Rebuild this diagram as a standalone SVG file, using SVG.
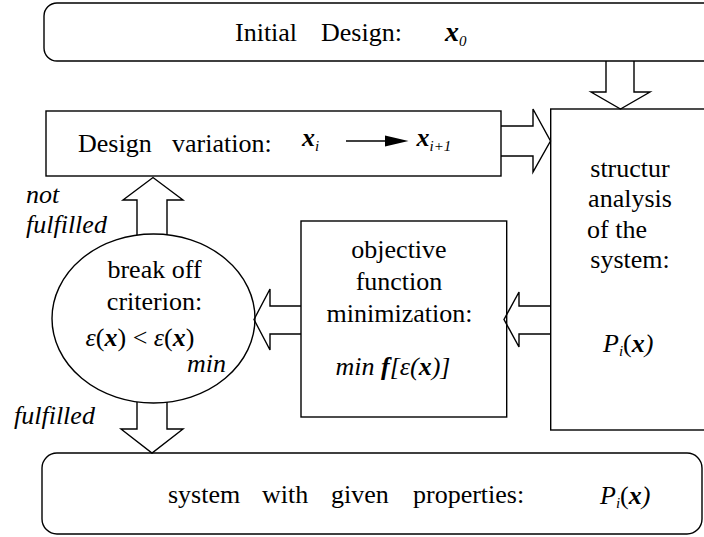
<svg xmlns="http://www.w3.org/2000/svg" width="704" height="537" viewBox="0 0 704 537" font-family="'Liberation Serif', Tinos, 'DejaVu Serif', 'Noto Serif', serif">
<style>
  .box { fill: none; stroke: #000; stroke-width: 1.4; }
  .arr { fill: none; stroke: #000; stroke-width: 1.4; stroke-linejoin: miter; }
  text { font-family: 'Liberation Serif', Tinos, 'DejaVu Serif', 'Noto Serif', serif; font-size: 26px; fill: #000; }
  .it { font-style: italic; }
  .bi { font-style: italic; font-weight: bold; }
  .sub { font-size: 15px; font-style: italic; }
  .mid { text-anchor: middle; }
</style>
<rect width="704" height="537" fill="#fff"/>

<g id="initial-design">
  <rect class="box" x="44" y="3" width="690" height="58" rx="13" ry="13"/>
  <text x="235" y="41">Initial</text>
  <text x="321" y="41">Design:</text>
  <text x="445" y="41"><tspan class="bi" font-size="28">x</tspan><tspan class="sub" dy="5">0</tspan></text>
</g>

<g id="design-variation">
  <rect class="box" x="46" y="111" width="455" height="65"/>
  <text x="78" y="152">Design</text>
  <text x="172" y="152">variation:</text>
  <text x="302" y="146"><tspan class="bi">x</tspan><tspan class="sub" dy="5">i</tspan></text>
  <line x1="346" y1="141" x2="388" y2="141" stroke="#000" stroke-width="1.6"/>
  <polygon points="385,135.5 408.5,141 385,146.5" fill="#000"/>
  <text x="416.5" y="146"><tspan class="bi">x</tspan><tspan class="sub" dy="5">i+1</tspan></text>
</g>

<g id="structur-analysis">
  <rect class="box" x="550.7" y="109" width="180" height="321"/>
  <text class="mid" x="630" y="177">structur</text>
  <text class="mid" x="630" y="207">analysis</text>
  <text x="587" y="238">of the</text>
  <text class="mid" x="630" y="268">system:</text>
  <text x="603" y="352"><tspan class="it">P</tspan><tspan class="sub" dy="4">i</tspan><tspan dy="-4">(</tspan><tspan class="bi">x</tspan><tspan class="it">)</tspan></text>
</g>

<g id="objective">
  <rect class="box" x="301" y="221" width="205.7" height="196"/>
  <text class="mid" x="399" y="258">objective</text>
  <text class="mid" x="399" y="290">function</text>
  <text class="mid" x="399.5" y="322">minimization:</text>
  <text class="mid" x="393" y="375"><tspan class="it">min </tspan><tspan class="bi">f</tspan><tspan class="it">[ε(</tspan><tspan class="bi">x</tspan><tspan class="it">)]</tspan></text>
</g>

<g id="break-off">
  <ellipse class="box" cx="153.5" cy="318.5" rx="101.5" ry="84.5"/>
  <text class="mid" x="154.5" y="278">break off</text>
  <text class="mid" x="154.5" y="310">criterion:</text>
  <text class="mid" x="140" y="346"><tspan class="it">ε</tspan>(<tspan class="bi">x</tspan>) &lt; <tspan class="it">ε</tspan>(<tspan class="bi">x</tspan>)</text>
  <text class="it" x="187" y="372">min</text>
</g>

<g id="result">
  <rect class="box" x="42" y="453" width="660" height="81" rx="15" ry="15"/>
  <text x="168" y="503">system</text>
  <text x="262" y="503">with</text>
  <text x="331" y="503">given</text>
  <text x="413" y="503">properties:</text>
  <text x="600" y="504"><tspan class="it">P</tspan><tspan class="sub" dy="4">i</tspan><tspan dy="-4">(</tspan><tspan class="bi">x</tspan><tspan class="it">)</tspan></text>
</g>

<g id="labels">
  <text class="it" x="26" y="203">not</text>
  <text class="it" x="26" y="233">fulfilled</text>
  <text class="it" x="14" y="424">fulfilled</text>
</g>

<g id="connectors">
  <path class="arr" d="M606,61 V92 H591 L620.5,109 L650,92 H634 V61"/>
  <path class="arr" d="M501,126 H533 V109 L550.5,141 L533,172 V156 H501"/>
  <path class="arr" d="M137,235 V200 H123 L153,177.5 L183,200 H167 V235"/>
  <path class="arr" d="M137,402 V429 H121 L152,453 L183,429 H167 V402"/>
  <path class="arr" d="M550.7,306 H519 V292 L504,319.5 L519,347 V334 H550.7"/>
  <path class="arr" d="M301,306 H270 V289 L254,319.5 L270,350 V334 H301"/>
</g>
</svg>
